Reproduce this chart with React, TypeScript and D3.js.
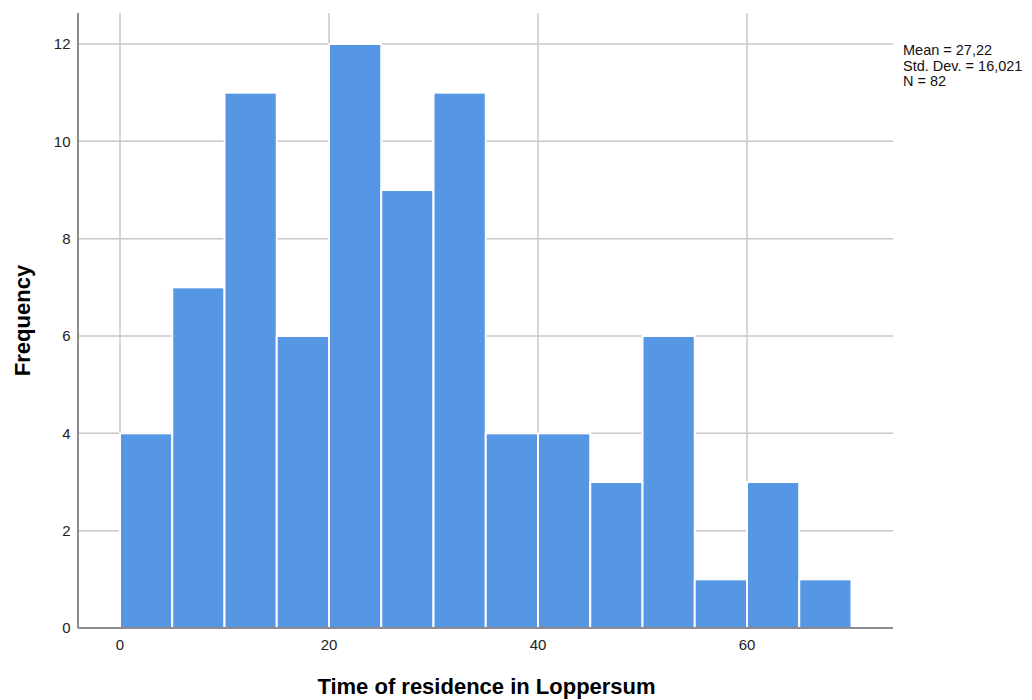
import React from "react";
import * as d3 from "d3";

const binStarts = [0, 5, 10, 15, 20, 25, 30, 35, 40, 45, 50, 55, 60, 65];
const binWidth = 5;
const frequencies = [4, 7, 11, 6, 12, 9, 11, 4, 4, 3, 6, 1, 3, 1];
const xTicks = [0, 20, 40, 60];
const yTicks = [0, 2, 4, 6, 8, 10, 12];
const statsLines = ["Mean = 27,22", "Std. Dev. = 16,021", "N = 82"];

const W = 1032;
const H = 700;
const plot = { left: 78, right: 893, top: 13, bottom: 628 };

export default function App() {
  // 0 -> 120 px, 20 -> 329 px
  const x = d3
    .scaleLinear()
    .domain([(plot.left - 120) / 10.45, (plot.right - 120) / 10.45])
    .range([plot.left, plot.right]);
  const y = d3.scaleLinear().domain([0, 12]).range([plot.bottom, 44]);
  const font = "'Liberation Sans', Arial, sans-serif";
  const grid = "#c8c8c8";
  return (
    <svg width={W} height={H} style={{ position: "absolute", left: 0, top: 0, background: "#fff" }} fontFamily={font}>
      {yTicks.filter((t) => t > 0).map((t) => (
        <line key={"gy" + t} x1={plot.left} x2={plot.right} y1={y(t)} y2={y(t)} stroke={grid} strokeWidth={1.5} />
      ))}
      {xTicks.map((t) => (
        <line key={"gx" + t} x1={x(t)} x2={x(t)} y1={plot.top} y2={plot.bottom} stroke={grid} strokeWidth={1.5} />
      ))}
      {frequencies.map((f, i) => (
        <rect
          key={"b" + i}
          x={x(binStarts[i])}
          y={y(f)}
          width={x(binStarts[i] + binWidth) - x(binStarts[i])}
          height={y(0) - y(f)}
          fill="#5596e5"
          stroke="#ffffff"
          strokeWidth={2}
        />
      ))}
      <line x1={plot.left} x2={plot.left} y1={plot.top} y2={plot.bottom} stroke="#8c8c8c" strokeWidth={2} />
      <line x1={plot.left} x2={plot.right} y1={plot.bottom} y2={plot.bottom} stroke="#8c8c8c" strokeWidth={2} />
      {yTicks.map((t) => (
        <text key={"ty" + t} x={70.5} y={y(t)} dy="0.35em" textAnchor="end" fontSize={15} fill="#222">
          {t}
        </text>
      ))}
      {xTicks.map((t) => (
        <text key={"tx" + t} x={x(t)} y={645} dy="0.35em" textAnchor="middle" fontSize={15} fill="#222">
          {t}
        </text>
      ))}
      <text x={(plot.left + plot.right) / 2 + 1} y={694} textAnchor="middle" fontSize={22} fontWeight="bold" fill="#000">
        Time of residence in Loppersum
      </text>
      <text transform={`translate(30,${(plot.top + plot.bottom) / 2}) rotate(-90)`} textAnchor="middle" fontSize={22} fontWeight="bold" fill="#000">
        Frequency
      </text>
      {statsLines.map((s, i) => (
        <text key={"s" + i} x={903} y={55 + i * 15.5} fontSize={14.5} fill="#111">
          {s}
        </text>
      ))}
    </svg>
  );
}
